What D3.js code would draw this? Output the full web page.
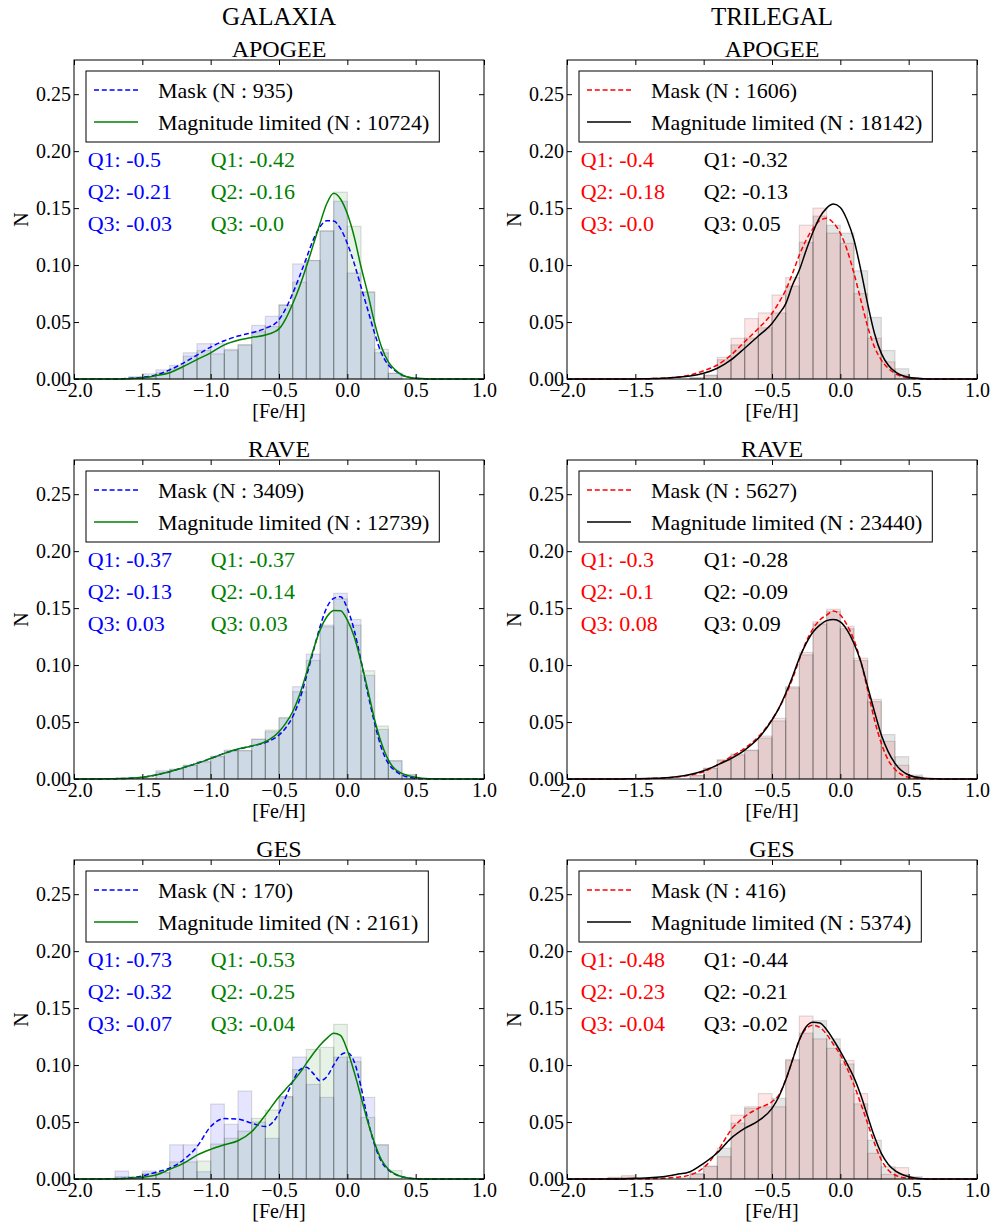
<!DOCTYPE html>
<html lang="en">
<head>
<meta charset="UTF-8">
<title>[Fe/H] distributions</title>
<style>
  body { margin: 0; background: #fff; }
  svg { display: block; font-family: "Liberation Serif", "Times New Roman", serif; }
</style>
</head>
<body>
<svg width="994" height="1225"></svg>
<script src="https://cdn.jsdelivr.net/npm/d3@7"></script>
<script>
// histogram bin edges (0.1 dex bins) and the x grid the KDE curves were read on
var binEdges = [-1.8, -1.7, -1.6, -1.5, -1.4, -1.3, -1.2, -1.1, -1.0, -0.9, -0.8, -0.7, -0.6,
  -0.5, -0.4, -0.3, -0.2, -0.1, 0.0, 0.1, 0.2, 0.3, 0.4, 0.5, 0.6, 0.7];
var kdeX = [-2.0, -1.8, -1.7, -1.6, -1.5, -1.4, -1.3, -1.2, -1.1, -1.0, -0.9, -0.8, -0.7, -0.6,
  -0.5, -0.45, -0.4, -0.35, -0.3, -0.25, -0.2, -0.15, -0.1, -0.05, 0.0, 0.05, 0.1, 0.15,
  0.2, 0.25, 0.3, 0.35, 0.4, 0.5, 0.6, 0.7, 0.8, 1.0];

var models = ['GALAXIA', 'TRILEGAL'];
var surveys = ['APOGEE', 'RAVE', 'GES'];
var xTicks = [-2.0, -1.5, -1.0, -0.5, 0.0, 0.5, 1.0];
var yTicks = [0.00, 0.05, 0.10, 0.15, 0.20, 0.25];
var qY = [0.186, 0.158, 0.130];

// legend counts, [survey][model]
var maskN = [[935, 1606], [3409, 5627], [170, 416]];
var magN = [[10724, 18142], [12739, 23440], [2161, 5374]];

// quartile labels, [survey][model]
var maskQ = [[['-0.5', '-0.21', '-0.03'], ['-0.4', '-0.18', '-0.0']],
             [['-0.37', '-0.13', '0.03'], ['-0.3', '-0.1', '0.08']],
             [['-0.73', '-0.32', '-0.07'], ['-0.48', '-0.23', '-0.04']]];
var magQ = [[['-0.42', '-0.16', '-0.0'], ['-0.32', '-0.13', '0.05']],
            [['-0.37', '-0.14', '0.03'], ['-0.28', '-0.09', '0.09']],
            [['-0.53', '-0.25', '-0.04'], ['-0.44', '-0.21', '-0.02']]];

// histogram heights
var histGalApogeeMask = [0, 0, 0.002, 0.0045, 0.008, 0.012, 0.023, 0.031, 0.031, 0.026, 0.030, 0.047, 0.055, 0.065, 0.101, 0.104, 0.130, 0.156, 0.093, 0.076, 0.023, 0.005, 0, 0, 0];
var histGalApogeeMag = [0, 0, 0.001, 0.002, 0.0055, 0.009, 0.020, 0.025, 0.022, 0.025, 0.030, 0.0415, 0.046, 0.065, 0.085, 0.104, 0.130, 0.164, 0.134, 0.0766, 0.026, 0.005, 0, 0, 0];
var histTriApogeeMask = [0, 0, 0, 0, 0, 0, 0, 0.001, 0.0035, 0.019, 0.0357, 0.053, 0.058, 0.0737, 0.089, 0.135, 0.150, 0.128, 0.119, 0.075, 0.0357, 0.015, 0.0035, 0, 0];
var histTriApogeeMag = [0, 0, 0, 0, 0, 0, 0, 0.001, 0.003, 0.017, 0.030, 0.036, 0.045, 0.058, 0.0816, 0.120, 0.143, 0.135, 0.128, 0.095, 0.054, 0.025, 0.009, 0.001, 0];
var histGalRaveMask = [0, 0, 0, 0.0006, 0.0073, 0.0085, 0.012, 0.0155, 0.020, 0.0254, 0.0248, 0.0348, 0.0415, 0.0532, 0.081, 0.1096, 0.135, 0.163, 0.140, 0.091, 0.0435, 0.016, 0.0035, 0, 0];
var histGalRaveMag = [0, 0, 0, 0.0006, 0.006, 0.0085, 0.012, 0.0146, 0.0196, 0.0245, 0.025, 0.035, 0.043, 0.054, 0.0766, 0.104, 0.1336, 0.158, 0.135, 0.095, 0.0465, 0.016, 0.004, 0, 0];
var histTriRaveMask = [0, 0, 0, 0, 0, 0, 0, 0.003, 0.0094, 0.0167, 0.022, 0.0254, 0.0377, 0.0532, 0.081, 0.111, 0.138, 0.149, 0.134, 0.106, 0.0699, 0.033, 0.012, 0.002, 0];
var histTriRaveMag = [0, 0, 0, 0, 0, 0, 0, 0.003, 0.0094, 0.0167, 0.021, 0.025, 0.036, 0.051, 0.080, 0.109, 0.136, 0.147, 0.132, 0.104, 0.068, 0.039, 0.0196, 0.0035, 0];
var histGalGesMask = [0, 0.007, 0.002, 0.007, 0.0056, 0.030, 0.030, 0.0064, 0.0658, 0.048, 0.0772, 0.050, 0.0357, 0.0722, 0.107, 0.083, 0.0716, 0.107, 0.107, 0.0716, 0.030, 0, 0, 0, 0];
var histGalGesMag = [0, 0.002, 0.001, 0.005, 0.0056, 0.015, 0.015, 0.0158, 0.0307, 0.0357, 0.042, 0.0532, 0.0605, 0.0722, 0.096, 0.1137, 0.1155, 0.1357, 0.103, 0.054, 0.030, 0.0073, 0, 0, 0];
var histTriGesMask = [0, 0.0015, 0.003, 0, 0, 0, 0, 0.004, 0.0114, 0.0196, 0.056, 0.0634, 0.075, 0.0634, 0.105, 0.143, 0.123, 0.1146, 0.104, 0.075, 0.0225, 0.004, 0.010, 0, 0];
var histTriGesMag = [0, 0.001, 0.0015, 0, 0, 0, 0.001, 0.005, 0.011, 0.027, 0.049, 0.062, 0.0634, 0.0708, 0.104, 0.128, 0.139, 0.123, 0.101, 0.066, 0.034, 0.0108, 0.004, 0.002, 0];

// KDE curves on kdeX
var kdeGalApogeeMask = [0, 0, 0, 0.0005, 0.0015, 0.0035, 0.008, 0.014, 0.021, 0.028, 0.0336, 0.0377, 0.0406, 0.0444, 0.052, 0.062, 0.075, 0.090, 0.106, 0.122, 0.1336, 0.139, 0.1386, 0.132, 0.119, 0.1015, 0.081, 0.0605, 0.040, 0.0225, 0.0123, 0.0073, 0.0035, 0.0006, 0.0001, 0, 0, 0];
var kdeGalApogeeMag = [0, 0, 0, 0.0003, 0.001, 0.003, 0.0055, 0.011, 0.017, 0.023, 0.030, 0.034, 0.0365, 0.0386, 0.044, 0.053, 0.066, 0.081, 0.0985, 0.1175, 0.1365, 0.154, 0.163, 0.158, 0.145, 0.125, 0.0985, 0.075, 0.049, 0.028, 0.015, 0.008, 0.0035, 0.0006, 0.0001, 0, 0, 0];
var kdeTriApogeeMask = [0, 0, 0, 0, 0.0001, 0.0003, 0.0007, 0.0015, 0.0035, 0.0073, 0.0123, 0.021, 0.0327, 0.0444, 0.0576, 0.067, 0.078, 0.0927, 0.1088, 0.122, 0.132, 0.139, 0.141, 0.137, 0.128, 0.113, 0.0927, 0.0693, 0.046, 0.028, 0.0167, 0.0094, 0.005, 0.0009, 0.0001, 0, 0, 0];
var kdeTriApogeeMag = [0, 0, 0, 0, 0.0001, 0.0003, 0.0006, 0.0015, 0.0026, 0.005, 0.0094, 0.0167, 0.027, 0.0377, 0.0488, 0.057, 0.066, 0.0825, 0.0956, 0.113, 0.129, 0.142, 0.150, 0.1535, 0.1506, 0.1395, 0.122, 0.0956, 0.066, 0.040, 0.0225, 0.0123, 0.0064, 0.0015, 0.0003, 0, 0, 0];
var kdeGalRaveMask = [0, 0.0001, 0.0003, 0.0006, 0.0015, 0.0035, 0.0064, 0.010, 0.0137, 0.018, 0.0225, 0.026, 0.029, 0.032, 0.0386, 0.045, 0.0547, 0.0693, 0.0898, 0.1117, 0.1336, 0.1506, 0.1585, 0.160, 0.1497, 0.1307, 0.104, 0.075, 0.0488, 0.027, 0.0137, 0.0073, 0.0035, 0.0006, 0.0001, 0, 0, 0];
var kdeGalRaveMag = [0, 0.0001, 0.0003, 0.0006, 0.0015, 0.0035, 0.0064, 0.010, 0.0137, 0.018, 0.0225, 0.0263, 0.029, 0.0327, 0.0415, 0.049, 0.059, 0.0737, 0.0927, 0.113, 0.1307, 0.1424, 0.148, 0.1477, 0.1395, 0.125, 0.103, 0.078, 0.0518, 0.0313, 0.0167, 0.0085, 0.005, 0.0015, 0.0003, 0.0001, 0, 0];
var kdeTriRaveMask = [0, 0, 0, 0.0001, 0.0002, 0.0004, 0.0008, 0.0018, 0.0035, 0.0064, 0.0123, 0.0196, 0.027, 0.037, 0.0523, 0.062, 0.0737, 0.088, 0.105, 0.1205, 0.132, 0.1395, 0.1439, 0.1474, 0.1439, 0.135, 0.122, 0.103, 0.078, 0.0518, 0.0313, 0.0167, 0.0085, 0.0015, 0.0002, 0, 0, 0];
var kdeTriRaveMag = [0, 0, 0, 0.0001, 0.0002, 0.0005, 0.0009, 0.002, 0.004, 0.0073, 0.0123, 0.018, 0.0254, 0.0357, 0.0518, 0.062, 0.075, 0.0898, 0.106, 0.119, 0.129, 0.135, 0.139, 0.140, 0.138, 0.1307, 0.119, 0.103, 0.081, 0.059, 0.0386, 0.024, 0.0137, 0.0035, 0.0009, 0.0002, 0, 0];
var kdeGalGesMask = [0, 0, 0.0003, 0.0009, 0.0026, 0.006, 0.0095, 0.0167, 0.0284, 0.046, 0.053, 0.0525, 0.049, 0.046, 0.058, 0.072, 0.0854, 0.0956, 0.098, 0.0927, 0.0863, 0.0898, 0.100, 0.1088, 0.111, 0.103, 0.081, 0.0518, 0.0298, 0.0152, 0.0079, 0.004, 0.002, 0.0002, 0, 0, 0, 0];
var kdeGalGesMag = [0, 0, 0.0002, 0.0006, 0.0015, 0.0035, 0.0085, 0.0137, 0.021, 0.026, 0.030, 0.0336, 0.0415, 0.056, 0.0722, 0.079, 0.0854, 0.0927, 0.1015, 0.110, 0.1175, 0.1234, 0.128, 0.126, 0.113, 0.094, 0.0722, 0.050, 0.0313, 0.0167, 0.0085, 0.0044, 0.002, 0.0003, 0, 0, 0, 0];
var kdeTriGesMask = [0, 0, 0, 0, 0.0001, 0.0003, 0.0006, 0.0015, 0.0035, 0.010, 0.024, 0.043, 0.0547, 0.062, 0.0678, 0.0737, 0.0868, 0.1044, 0.122, 0.132, 0.135, 0.133, 0.127, 0.118, 0.109, 0.097, 0.0825, 0.066, 0.0488, 0.0313, 0.0167, 0.0079, 0.0035, 0.0006, 0.0001, 0, 0, 0];
var kdeTriGesMag = [0, 0, 0, 0.0001, 0.0006, 0.001, 0.002, 0.004, 0.0064, 0.0137, 0.023, 0.0357, 0.0444, 0.051, 0.062, 0.0722, 0.0868, 0.1044, 0.122, 0.1336, 0.1375, 0.137, 0.131, 0.122, 0.112, 0.101, 0.089, 0.0735, 0.055, 0.037, 0.0225, 0.013, 0.0073, 0.002, 0.0003, 0, 0, 0];

var maskColor = ['#0000ff', '#ff0000'];
var magColor = ['#008000', '#000000'];

var histMask = [[histGalApogeeMask, histTriApogeeMask], [histGalRaveMask, histTriRaveMask], [histGalGesMask, histTriGesMask]];
var histMag = [[histGalApogeeMag, histTriApogeeMag], [histGalRaveMag, histTriRaveMag], [histGalGesMag, histTriGesMag]];
var kdeMask = [[kdeGalApogeeMask, kdeTriApogeeMask], [kdeGalRaveMask, kdeTriRaveMask], [kdeGalGesMask, kdeTriGesMask]];
var kdeMag = [[kdeGalApogeeMag, kdeTriApogeeMag], [kdeGalRaveMag, kdeTriRaveMag], [kdeGalGesMag, kdeTriGesMag]];

var svg = d3.select('svg');
var colX = [74, 567], rowY = [60, 460, 860];
var plotW = 410, plotH = 319;

var x = d3.scaleLinear().domain([-2, 1]).range([0, plotW]);
var y = d3.scaleLinear().domain([0, 0.28]).range([plotH, 0]);
var line = d3.line().x(function (d) { return x(d[0]); }).y(function (d) { return y(d[1]); }).curve(d3.curveMonotoneX);

// column headers
models.forEach(function (m, c) {
  svg.append('text').attr('x', colX[c] + plotW / 2).attr('y', 25)
    .attr('text-anchor', 'middle').attr('font-size', 25).text(m);
});

function drawHist(g, vals, color) {
  g.append('g').selectAll('rect').data(vals.map(function (v, i) { return {v: v, i: i}; }).filter(function (d) { return d.v > 0; }))
    .enter().append('rect')
    .attr('x', function (d) { return x(binEdges[d.i]); })
    .attr('width', function (d) { return x(binEdges[d.i + 1]) - x(binEdges[d.i]); })
    .attr('y', function (d) { return y(d.v); })
    .attr('height', function (d) { return plotH - y(d.v); })
    .attr('fill', color).attr('fill-opacity', 0.1)
    .attr('stroke', '#000').attr('stroke-opacity', 0.13).attr('stroke-width', 1.2);
}

surveys.forEach(function (s, r) {
  models.forEach(function (m, c) {
    var g = svg.append('g').attr('transform', 'translate(' + colX[c] + ',' + rowY[r] + ')');

    g.append('text').attr('x', plotW / 2).attr('y', -3.5)
      .attr('text-anchor', 'middle').attr('font-size', 24).text(s);

    drawHist(g, histMask[r][c], maskColor[c]);
    drawHist(g, histMag[r][c], magColor[c]);

    g.append('path').datum(kdeX.map(function (v, i) { return [v, kdeMask[r][c][i]]; }))
      .attr('d', line).attr('fill', 'none').attr('stroke', maskColor[c])
      .attr('stroke-width', 1.5).attr('stroke-dasharray', '5,2.8');
    g.append('path').datum(kdeX.map(function (v, i) { return [v, kdeMag[r][c][i]]; }))
      .attr('d', line).attr('fill', 'none').attr('stroke', magColor[c])
      .attr('stroke-width', 1.5);

    // axes, ticks pointing inward on all four sides
    var ax = [
      g.append('g').attr('transform', 'translate(0,' + plotH + ')')
        .call(d3.axisBottom(x).tickValues(xTicks).tickFormat(d3.format('.1f')).tickSizeInner(-5).tickSizeOuter(0).tickPadding(4)),
      g.append('g')
        .call(d3.axisTop(x).tickValues(xTicks).tickFormat('').tickSizeInner(-5).tickSizeOuter(0)),
      g.append('g')
        .call(d3.axisLeft(y).tickValues(yTicks).tickFormat(d3.format('.2f')).tickSizeInner(-5).tickSizeOuter(0).tickPadding(3)),
      g.append('g').attr('transform', 'translate(' + plotW + ',0)')
        .call(d3.axisRight(y).tickValues(yTicks).tickFormat('').tickSizeInner(-5).tickSizeOuter(0))
    ];
    ax.forEach(function (a) {
      a.attr('font-family', null).attr('font-size', 20);
      a.select('.domain').remove();
    });
    g.append('rect').attr('width', plotW).attr('height', plotH)
      .attr('fill', 'none').attr('stroke', '#000').attr('stroke-width', 1);

    g.append('text').attr('x', plotW / 2).attr('y', plotH + 39)
      .attr('text-anchor', 'middle').attr('font-size', 20).text('[Fe/H]');
    g.append('text').attr('transform', 'translate(-46,' + (plotH / 2) + ') rotate(-90)')
      .attr('text-anchor', 'middle').attr('font-size', 20).text('N');

    // legend
    var lg = g.append('g').attr('transform', 'translate(12,11)');
    var box = lg.append('rect').attr('height', 71).attr('fill', '#fff')
      .attr('stroke', '#000').attr('stroke-width', 1);
    var items = [
      {label: 'Mask (N : ' + maskN[r][c] + ')', color: maskColor[c], dash: '5,2.8'},
      {label: 'Magnitude limited (N : ' + magN[r][c] + ')', color: magColor[c], dash: null}
    ];
    var maxW = 0;
    items.forEach(function (it, i) {
      var cy = 19 + i * 32;
      lg.append('line').attr('x1', 8).attr('x2', 52).attr('y1', cy).attr('y2', cy)
        .attr('stroke', it.color).attr('stroke-width', 1.5).attr('stroke-dasharray', it.dash);
      var t = lg.append('text').attr('x', 72).attr('y', cy + 7.5).attr('font-size', 22).text(it.label);
      maxW = Math.max(maxW, t.node().getComputedTextLength());
    });
    box.attr('width', 72 + maxW + 10);

    // quartiles
    qY.forEach(function (qy, i) {
      g.append('text').attr('x', x(-1.9)).attr('y', y(qy)).attr('font-size', 22)
        .attr('fill', maskColor[c]).text('Q' + (i + 1) + ': ' + maskQ[r][c][i]);
      g.append('text').attr('x', x(-1.0)).attr('y', y(qy)).attr('font-size', 22)
        .attr('fill', magColor[c]).text('Q' + (i + 1) + ': ' + magQ[r][c][i]);
    });
  });
});
</script>
</body>
</html>
